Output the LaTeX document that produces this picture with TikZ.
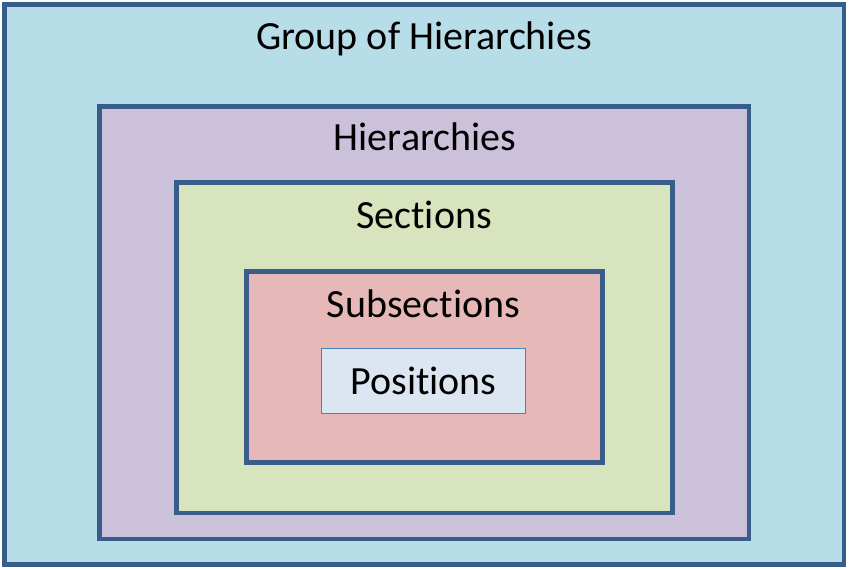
\documentclass[tikz,border=0pt]{standalone}
\usepackage{fontspec}
\setmainfont{Carlito}[Ligatures=NoCommon]
\usetikzlibrary{positioning}

\definecolor{edgeblue}{HTML}{385D8A}
\definecolor{posedge}{HTML}{4F81BD}
\definecolor{groupfill}{HTML}{B7DDE8}
\definecolor{hierfill}{HTML}{CCC1DA}
\definecolor{sectfill}{HTML}{D7E4BD}
\definecolor{subfill}{HTML}{E6B9B8}
\definecolor{posfill}{HTML}{DCE6F2}

\begin{document}
\begin{tikzpicture}[
  x=0.75pt, y=-0.75pt,
  frame/.style={rectangle, draw=edgeblue, line width=3.5pt, inner sep=0pt},
  title/.style={font=\fontsize{30}{36}\selectfont, anchor=base}
  ]
  \useasboundingbox (0,0) rectangle (850,569);

  \node[frame, fill=groupfill, minimum width=629.6pt, minimum height=420pt] (group) at (424.25,284.5) {};
  \node[frame, fill=hierfill, minimum width=487.1pt, minimum height=324.4pt] (hier) at (424.25,322.75) {};
  \node[frame, fill=sectfill, minimum width=372pt, minimum height=247.9pt] (sect) at (424.5,347.75) {};
  \node[frame, fill=subfill, minimum width=267pt, minimum height=143.25pt] (subsec) at (424.5,367) {};
  \node[rectangle, draw=posedge, line width=1pt, fill=posfill, minimum width=153.2pt, minimum height=48.9pt,
        font=\fontsize{30}{36}\selectfont] (pos) at (423.5,381) {Positions};

  \node[title] (grouplabel) at (424,49) {Group of Hierarchies};
  \node[title] (hierlabel) at (425,150) {Hierarchies};
  \node[title] (sectlabel) at (424,228) {Sections};
  \node[title] (sublabel) at (423.5,317) {Subsections};
\end{tikzpicture}
\end{document}
